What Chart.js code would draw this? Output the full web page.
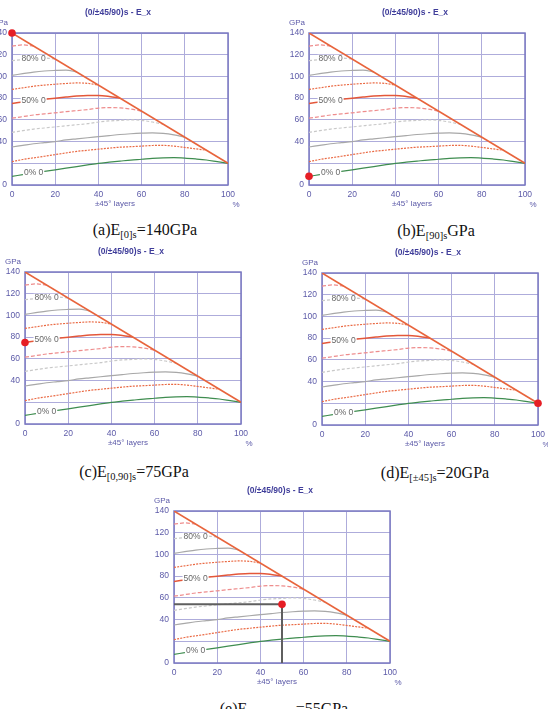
<!DOCTYPE html>
<html>
<head>
<meta charset="utf-8">
<script src="https://cdn.jsdelivr.net/npm/chart.js@4.4.1/dist/chart.umd.min.js"></script>
<style>
  body { margin: 0; background: #fff; }
  #hoja { position: relative; width: 548px; height: 709px; overflow: hidden; background: #fff; }
  .panel { position: absolute; }
  .cap {
    position: absolute; width: 240px; text-align: center;
    font-family: "Liberation Serif", "Times New Roman", serif; font-size: 16px;
    line-height: 16px; color: #111; white-space: nowrap;
  }
  .cap sub { font-size: 10.5px; line-height: 0; vertical-align: -3px; }
</style>
</head>
<body>
<div id="hoja"></div>
<script>
// % of ±45° layers
const capas = [0, 5, 10, 15, 20, 25, 30, 35, 40, 45, 50, 55, 60, 65, 70, 75, 80, 85, 90, 95, 100];

// E_x (GPa) for each % of 0° layers
const curva0 = [8, 9.5, 11, 12.5, 14, 15.5, 17, 18.5, 20, 21, 22, 23, 23.7, 24.5, 25, 25.2, 24.8, 24, 23, 21.5, 20];
const curva10 = [21.5, 23.5, 25, 26.5, 28, 29.5, 31, 32, 33, 34, 34.8, 35.3, 35.8, 36.4, 36.5, 35.8, 34.6, 33.3, 32];
const curva20 = [35, 36.5, 38, 39, 40, 41.5, 42.5, 43.5, 44.5, 45.5, 46.5, 47.2, 47.7, 48, 47.6, 46.2, 44];
const curva30 = [48.5, 50, 51.5, 52.5, 53.5, 54.5, 55.5, 56.5, 58, 59, 59.5, 60, 59.5, 58, 56];
const curva40 = [61.5, 63, 64.5, 65.5, 66.5, 67.5, 68.5, 69.5, 70.8, 71.3, 71, 70, 68];
const curva50 = [75, 76.5, 78, 79, 80, 81, 82, 82.5, 82.5, 81.6, 80];
const curva60 = [88, 89.5, 91, 92, 92.8, 93.5, 94, 93.6, 92];
const curva70 = [101, 102.5, 104, 105, 105.5, 105.8, 104];
const curva80 = [114.5, 115.5, 116.3, 117, 116];
const curva90 = [128, 129, 128];
const curvas = [curva0, curva10, curva20, curva30, curva40, curva50, curva60, curva70, curva80, curva90];

// limit line 0% 90° (from 100% 0° to 100% ±45°)
const limiteX = [0, 100];
const limiteY = [140, 20];

const etiquetasCurva = { 0: "0% 0", 5: "50% 0", 8: "80% 0" };
const ticksY = [0, 40, 60, 80, 100, 120, 140];

// highlighted laminate of each panel
const puntoX = [0, 0, 0, 100, 50];
const puntoY = [140, 8, 75, 20, 54];
const leyendas = [
  "(a)E<sub>[0]s</sub>=140GPa",
  "(b)E<sub>[90]s</sub>GPa",
  "(c)E<sub>[0,90]s</sub>=75GPa",
  "(d)E<sub>[±45]s</sub>=20GPa",
  "(e)E<sub>[0,90,±45]s</sub>=55GPa"
];

const titulo = "(0/±45/90)s - E_x";

// layout of the page
const areas = [[12, 33], [309, 33], [25, 272], [322, 273], [174, 511]];
const leyendaPos = [[145, 222], [436, 223], [134, 464], [435, 465], [284, 701]];

const coloresCurva = ["#3f8d50", "#ea6a44", "#a8a8a8", "#c8c8c8", "#ee8c8c", "#e4573a", "#ea6a44", "#a8a8a8", "#c8c8c8", "#ee8c8c"];
const trazos = [[], [2, 1.2], [], [3, 2], [4, 2], [], [2, 1.2], [], [3, 2], [4, 2]];

const AZUL = "#5c5aa8";

const decoracion = {
  id: "decoracion",
  beforeDatasetsDraw(chart) {
    const a = chart.chartArea;
    const ctx = chart.ctx;
    ctx.save();
    ctx.strokeStyle = "#7b79c2";
    ctx.lineWidth = 1.5;
    ctx.strokeRect(a.left, a.top, a.right - a.left, a.bottom - a.top);
    ctx.restore();
  },
  afterDatasetsDraw(chart) {
    const ctx = chart.ctx;
    const x = chart.scales.x;
    const y = chart.scales.y;
    ctx.save();
    ctx.font = "8.5px Arial, 'Liberation Sans', sans-serif";
    ctx.textBaseline = "middle";
    Object.keys(etiquetasCurva).forEach((k) => {
      const px = x.getPixelForValue(capas[2]);
      const py = y.getPixelForValue(curvas[k][2]);
      const w = ctx.measureText(etiquetasCurva[k]).width;
      ctx.fillStyle = "#fff";
      ctx.fillRect(px - w / 2 - 1, py - 4, w + 2, 8);
      ctx.fillStyle = "#666";
      ctx.textAlign = "center";
      ctx.fillText(etiquetasCurva[k], px, py);
    });
    ctx.restore();
  },
  afterDraw(chart) {
    const a = chart.chartArea;
    const ctx = chart.ctx;
    ctx.save();
    ctx.textAlign = "center";
    ctx.textBaseline = "middle";
    ctx.fillStyle = "#3f3d9a";
    ctx.font = "bold 8.5px Arial, 'Liberation Sans', sans-serif";
    ctx.fillText(titulo, (a.left + a.right) / 2 - 2, a.top - 20);
    ctx.fillStyle = AZUL;
    ctx.font = "8px Arial, 'Liberation Sans', sans-serif";
    ctx.fillText("GPa", a.left - 12, a.top - 10);
    ctx.fillText("±45° layers", (a.left + a.right) / 2 - 5, a.bottom + 19);
    ctx.fillText("%", a.right + 8, a.bottom + 20);
    ctx.restore();
  }
};

function crearGrafica(n) {
  const cont = document.createElement("div");
  cont.className = "panel";
  cont.style.left = (areas[n][0] - 36) + "px";
  cont.style.top = (areas[n][1] - 33) + "px";
  const canvas = document.createElement("canvas");
  canvas.width = 276;
  canvas.height = 219;
  cont.appendChild(canvas);
  document.getElementById("hoja").appendChild(cont);

  const datasets = [];
  datasets.push({
    data: [{ x: puntoX[n], y: puntoY[n] }],
    showLine: false,
    pointRadius: 3.8,
    pointBackgroundColor: "#e61e25",
    pointBorderWidth: 0,
    clip: false
  });
  if (n === 4) {
    datasets.push({
      data: [{ x: 0, y: puntoY[n] }, { x: puntoX[n], y: puntoY[n] }, { x: puntoX[n], y: 0 }],
      borderColor: "#5f5f5f",
      borderWidth: 2,
      pointRadius: 0
    });
  }
  datasets.push({
    data: limiteX.map((v, i) => ({ x: v, y: limiteY[i] })),
    borderColor: "#e8643c",
    borderWidth: 1.6,
    pointRadius: 0
  });
  curvas.forEach((c, i) => {
    datasets.push({
      data: c.map((v, j) => ({ x: capas[j], y: v })),
      borderColor: coloresCurva[i],
      borderWidth: i === 5 ? 1.5 : 1.2,
      borderDash: trazos[i],
      pointRadius: 0,
      cubicInterpolationMode: "monotone"
    });
  });

  new Chart(canvas.getContext("2d"), {
    type: "line",
    data: { datasets },
    plugins: [decoracion],
    options: {
      responsive: false,
      animation: false,
      events: [],
      layout: { padding: { top: 33, right: 24, left: 0, bottom: 0 } },
      plugins: { legend: { display: false }, tooltip: { enabled: false } },
      scales: {
        x: {
          type: "linear",
          min: 0,
          max: 100,
          afterFit: (s) => { s.height = 34; },
          ticks: { stepSize: 20, padding: 5, color: AZUL, font: { size: 8.5, family: "Arial" } },
          grid: { color: "#aeacdb", lineWidth: 1, drawTicks: false },
          border: { display: false }
        },
        y: {
          min: 0,
          max: 140,
          afterFit: (s) => { s.width = 36; },
          ticks: {
            stepSize: 20,
            padding: 5,
            color: AZUL,
            font: { size: 8.5, family: "Arial" },
            callback: (v) => (ticksY.includes(v) ? v : "")
          },
          grid: { color: "#aeacdb", lineWidth: 1, drawTicks: false },
          border: { display: false }
        }
      }
    }
  });

  const cap = document.createElement("div");
  cap.className = "cap";
  cap.style.left = (leyendaPos[n][0] - 120) + "px";
  cap.style.top = leyendaPos[n][1] + "px";
  cap.innerHTML = leyendas[n];
  document.getElementById("hoja").appendChild(cap);
}

for (let n = 0; n < 5; n++) crearGrafica(n);
</script>
</body>
</html>
